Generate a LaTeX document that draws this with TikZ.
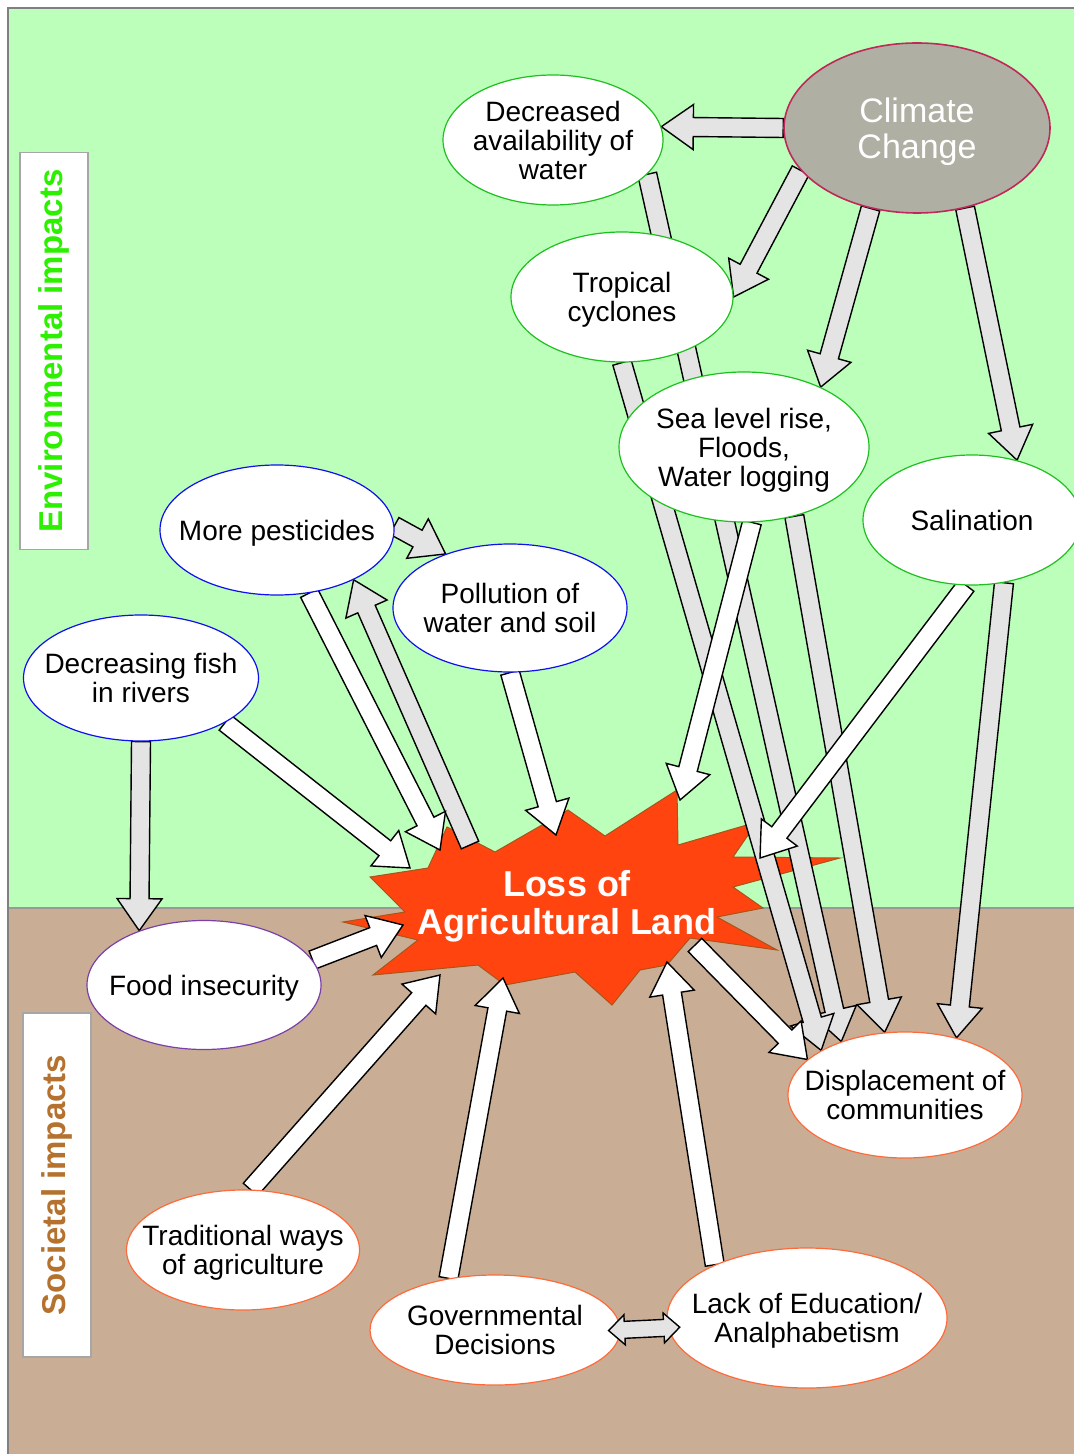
\documentclass[tikz,border=0pt]{standalone}
\usepackage{fontspec}
\setmainfont{Liberation Sans}
\usepackage{tikz}
\usetikzlibrary{shapes.geometric, calc, backgrounds}

\definecolor{envgreen}{HTML}{BBFFBB}
\definecolor{socbrown}{HTML}{C9AE95}
\definecolor{climfill}{HTML}{B0AFA3}
\definecolor{climedge}{HTML}{C0285A}
\definecolor{grnedge}{HTML}{1FBF1F}
\definecolor{bluedge}{HTML}{1010EE}
\definecolor{purpedge}{HTML}{7A3FA8}
\definecolor{orgedge}{HTML}{FF6A3A}
\definecolor{burstred}{HTML}{FF4410}
\definecolor{burstedge}{HTML}{A8551A}
\definecolor{arrgray}{HTML}{E4E4E4}
\definecolor{envtext}{HTML}{2CF000}
\definecolor{soctext}{HTML}{B5722F}

\begin{document}
\begin{tikzpicture}[
    x=0.5pt, y=-0.5pt,
    impact/.style={ellipse, fill=white, line width=0.6pt,
                   inner xsep=-10pt, inner ysep=-4pt, align=center,
                   text depth=0pt, font=\fontsize{14}{14.5}\selectfont},
    hazard/.style={impact, draw=grnedge},
    pollut/.style={impact, draw=bluedge},
    social/.style={impact, draw=orgedge},
    sidebox/.style={rectangle, draw=gray!70, fill=white, line width=0.8pt,
                    rotate=90, minimum height=34pt,
                    font=\fontsize{16.5}{16.5}\selectfont\bfseries},
    block/.style={draw=black, line width=0.7pt, to path={
        ($(\tikztostart)!4.75pt!90:(\tikztotarget)$)
        -- ($($(\tikztotarget)!16pt!(\tikztostart)$)!4.75pt!90:(\tikztotarget)$)
        -- ($($(\tikztotarget)!16pt!(\tikztostart)$)!11.25pt!90:(\tikztotarget)$)
        -- (\tikztotarget)
        -- ($($(\tikztotarget)!16pt!(\tikztostart)$)!11.25pt!-90:(\tikztotarget)$)
        -- ($($(\tikztotarget)!16pt!(\tikztostart)$)!4.75pt!-90:(\tikztotarget)$)
        -- ($(\tikztostart)!4.75pt!-90:(\tikztotarget)$) -- cycle}},
    garr/.style={block, fill=arrgray},
    warr/.style={block, fill=white},
    dblarr/.style={draw=black, fill=arrgray, line width=0.7pt, to path={
        ($(\tikztostart)!-6pt!(\tikztotarget)$)
        -- ($($(\tikztostart)!2pt!(\tikztotarget)$)!7.5pt!90:(\tikztotarget)$)
        -- ($($(\tikztostart)!2pt!(\tikztotarget)$)!4.25pt!90:(\tikztotarget)$)
        -- ($($(\tikztotarget)!2pt!(\tikztostart)$)!4.25pt!90:(\tikztotarget)$)
        -- ($($(\tikztotarget)!2pt!(\tikztostart)$)!7.5pt!90:(\tikztotarget)$)
        -- ($(\tikztotarget)!-6pt!(\tikztostart)$)
        -- ($($(\tikztotarget)!2pt!(\tikztostart)$)!7.5pt!-90:(\tikztotarget)$)
        -- ($($(\tikztotarget)!2pt!(\tikztostart)$)!4.25pt!-90:(\tikztotarget)$)
        -- ($($(\tikztostart)!2pt!(\tikztotarget)$)!4.25pt!-90:(\tikztotarget)$)
        -- ($($(\tikztostart)!2pt!(\tikztotarget)$)!7.5pt!-90:(\tikztotarget)$)
        -- cycle}},
]
\useasboundingbox (0,0) rectangle (1073,1454);

%% Climate change and its hazards
\node[ellipse, fill=climfill, draw=climedge, line width=0.8pt,
      minimum width=133pt, minimum height=85pt, align=center, text=white,
      text depth=0pt, font=\fontsize{17}{18}\selectfont] (climate) at (917,128) {Climate\\Change};
\node[hazard, minimum width=110pt, minimum height=65pt] (water)  at (553,140) {Decreased\\availability of\\water};
\node[hazard, minimum width=111pt, minimum height=65pt] (tropic) at (622,297) {Tropical\\cyclones};
\node[hazard, minimum width=125pt, minimum height=75pt] (sea)    at (744,447) {Sea level rise,\\Floods,\\Water logging};
\node[hazard, minimum width=109pt, minimum height=65pt] (salt)   at (972,520) {Salination};

%% Pesticides, pollution, fish
\node[pollut, minimum width=117pt, minimum height=65pt]   (pest) at (277,530) {More pesticides};
\node[pollut, minimum width=117pt, minimum height=64pt]   (poll) at (510,608) {Pollution of\\water and soil};
\node[pollut, minimum width=117.5pt, minimum height=63pt] (fish) at (141,678) {Decreasing fish\\in rivers};

%% Societal side
\node[impact, draw=purpedge, minimum width=117pt, minimum height=64.5pt] (food) at (204,985) {Food insecurity};
\node[social, minimum width=117pt, minimum height=63pt]   (disp) at (905,1095) {Displacement of\\communities};
\node[social, minimum width=116.5pt, minimum height=60pt] (trad) at (243,1250) {Traditional ways\\of agriculture};
\node[social, minimum width=125pt, minimum height=55pt]   (gov)  at (495,1330) {Governmental\\Decisions};
\node[social, minimum width=140pt, minimum height=70pt]   (edu)  at (807,1318) {Lack of Education/\\Analphabetism};

%% Central burst
\node[align=center, text=white, text depth=0pt,
      font=\fontsize{18}{19}\selectfont\bfseries] (loss) at (567,902)
    {Loss of\\Agricultural Land};

%% Side labels
\node[sidebox, minimum width=198.5pt, text=envtext] (envlabel) at (54,351)  {Environmental impacts};
\node[sidebox, minimum width=172pt,   text=soctext] (soclabel) at (57,1185) {Societal impacts};

%% Where arrows meet the burst
\coordinate (hitPest) at (440,850);
\coordinate (hitFish) at (410,868);
\coordinate (hitPoll) at (556,835);
\coordinate (hitSea)  at (680,800);
\coordinate (hitSalt) at (760,858);
\coordinate (hitFood) at (403,925);
\coordinate (hitTrad) at (440,975);
\coordinate (hitGov)  at (503,978);
\coordinate (hitEdu)  at (667,962);
\coordinate (outDisp) at (695,945);
\coordinate (outPest) at (470,845);

\begin{scope}[on background layer]
  %% Backdrop
  \fill[white] (0,0) rectangle (1073,1454);
  \fill[envgreen] (8,8) rectangle (1080,908);
  \fill[socbrown] (8,908) rectangle (1080,1460);
  \draw[gray!80, line width=0.6pt] (8,908) -- (1080,908);
  \draw[gray, line width=1pt] (8,1460) -- (8,8) -- (1080,8);

  %% Burst
  \draw[fill=burstred, draw=burstedge, line width=0.5pt]
    (370,877) -- (428,868) -- (447,827) -- (495,852) -- (568,810) -- (605,836)
    -- (677,790) -- (678,845) -- (757,822) -- (733,857) -- (840,858) -- (733,887)
    -- (763,908) -- (717,917) -- (777,950) -- (690,938) -- (667,965) -- (640,970)
    -- (612,1005) -- (575,972) -- (505,985) -- (478,965) -- (373,975) -- (418,940)
    -- (343,922) -- (405,912) -- cycle;

  %% Climate change drivers
  \draw[garr] (climate.west) to (water.7);
  \draw[garr] (climate.200)  to (tropic.east);
  \draw[garr] (climate.240)  to (sea.38);
  \draw[garr] (climate.-59)  to (salt.53);

  %% Hazards -> displacement
  \draw[garr] (water.-20)    to (disp.140);
  \draw[garr] (tropic.south) to (disp.152);
  \draw[garr] (sea.-54)      to (disp.108);
  \draw[garr] (salt.-63)     to (disp.48);

  %% Fish and pesticide chain
  \draw[garr] (fish.south) to (food.140);
  \draw[garr] (pest.2)     to (poll.140);
  \draw[garr] (outPest)    to (pest.-33);

  %% Into the burst
  \draw[warr] (pest.-63)   to (hitPest);
  \draw[warr] (fish.-28)   to (hitFish);
  \draw[warr] (poll.south) to (hitPoll);
  \draw[warr] (sea.-84)    to (hitSea);
  \draw[warr] (salt.-95)   to (hitSalt);
  \draw[warr] (food.13)    to (hitFood);
  \draw[warr] (trad.83)    to (hitTrad);
  \draw[warr] (gov.132)    to (hitGov);
  \draw[warr] (edu.150)    to (hitEdu);
  \draw[warr] (outDisp)    to (disp.160);
\end{scope}

%% Government <-> education
\draw[dblarr] (gov.east) to (edu.-176);

\end{tikzpicture}
\end{document}
